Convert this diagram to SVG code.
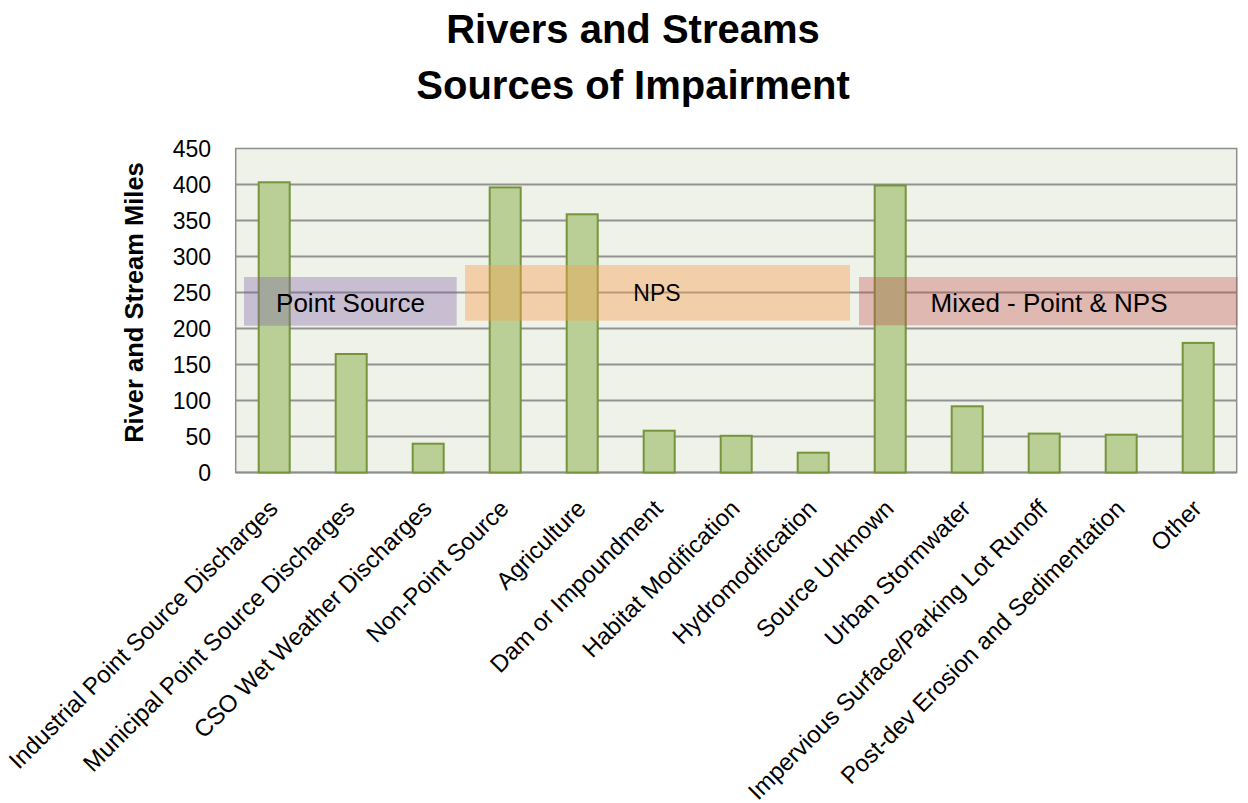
<svg xmlns="http://www.w3.org/2000/svg" width="1248" height="803" viewBox="0 0 1248 803">
<style>
.title{font-family:"Liberation Sans",Arial,sans-serif;font-weight:bold;font-size:40px;fill:#000;text-anchor:middle}
.ytitle{font-family:"Liberation Sans",Arial,sans-serif;font-weight:bold;font-size:25.5px;fill:#000;text-anchor:middle}
.tick{font-family:"Liberation Sans",Arial,sans-serif;font-size:23px;fill:#000;text-anchor:end}
.xl{font-family:"Liberation Sans",Arial,sans-serif;font-size:24px;fill:#000;text-anchor:end}
.grid{stroke:#929292;stroke-width:2;fill:none}
.bar{fill:#b9cf95;stroke:#77933c;stroke-width:2}
.band{font-family:"Liberation Sans",Arial,sans-serif;font-size:26px;fill:#000;text-anchor:middle}
</style>
<rect width="1248" height="803" fill="#ffffff"/>
<g id="title">
<text class="title" x="633" y="43">Rivers and Streams</text>
<text class="title" x="633" y="99">Sources of Impairment</text>
</g>
<g id="plot">
<rect x="235.7" y="148.5" width="1001" height="324" fill="#eff2e9" stroke="#8e8e8e" stroke-width="1.5"/>
<g id="gridlines">
<line class="grid" x1="235.7" y1="184.5" x2="1236.7" y2="184.5"/>
<line class="grid" x1="235.7" y1="220.5" x2="1236.7" y2="220.5"/>
<line class="grid" x1="235.7" y1="256.5" x2="1236.7" y2="256.5"/>
<line class="grid" x1="235.7" y1="292.5" x2="1236.7" y2="292.5"/>
<line class="grid" x1="235.7" y1="328.5" x2="1236.7" y2="328.5"/>
<line class="grid" x1="235.7" y1="364.5" x2="1236.7" y2="364.5"/>
<line class="grid" x1="235.7" y1="400.5" x2="1236.7" y2="400.5"/>
<line class="grid" x1="235.7" y1="436.5" x2="1236.7" y2="436.5"/>
<line x1="235.7" y1="472.5" x2="1236.7" y2="472.5" stroke="#8e8e8e" stroke-width="2"/>
</g>
</g>
<g id="yaxis">
<text class="tick" x="211" y="156.5">450</text>
<text class="tick" x="211" y="192.5">400</text>
<text class="tick" x="211" y="228.5">350</text>
<text class="tick" x="211" y="264.5">300</text>
<text class="tick" x="211" y="300.5">250</text>
<text class="tick" x="211" y="336.5">200</text>
<text class="tick" x="211" y="372.5">150</text>
<text class="tick" x="211" y="408.5">100</text>
<text class="tick" x="211" y="444.5">50</text>
<text class="tick" x="211" y="480.5">0</text>
<text class="ytitle" transform="translate(143,302.5) rotate(-90)">River and Stream Miles</text>
</g>
<g id="bars">
<rect id="bar-industrial" class="bar" x="258.7" y="182.3" width="31" height="290.2"/>
<rect id="bar-municipal" class="bar" x="335.7" y="354" width="31" height="118.5"/>
<rect id="bar-cso" class="bar" x="412.7" y="443.7" width="31" height="28.8"/>
<rect id="bar-nonpoint" class="bar" x="489.7" y="187.4" width="31" height="285.1"/>
<rect id="bar-agriculture" class="bar" x="566.7" y="214.3" width="31" height="258.2"/>
<rect id="bar-dam" class="bar" x="643.7" y="430.7" width="31" height="41.8"/>
<rect id="bar-habitat" class="bar" x="720.7" y="435.8" width="31" height="36.7"/>
<rect id="bar-hydro" class="bar" x="797.7" y="452.7" width="31" height="19.8"/>
<rect id="bar-unknown" class="bar" x="874.7" y="185.5" width="31" height="287"/>
<rect id="bar-urban" class="bar" x="951.7" y="406.3" width="31" height="66.2"/>
<rect id="bar-impervious" class="bar" x="1028.7" y="433.6" width="31" height="38.9"/>
<rect id="bar-postdev" class="bar" x="1105.7" y="434.7" width="31" height="37.8"/>
<rect id="bar-other" class="bar" x="1182.7" y="342.9" width="31" height="129.6"/>
</g>
<g id="band-point">
<rect x="244" y="277" width="212.7" height="48.7" fill="#7f62a6" fill-opacity="0.36"/>
<text class="band" x="350.5" y="311.7">Point Source</text>
</g>
<g id="band-nps">
<rect x="465" y="265" width="385" height="55.7" fill="#f9a050" fill-opacity="0.42"/>
<text class="band" x="657" y="301" style="font-size:23px">NPS</text>
</g>
<g id="band-mixed">
<rect x="859" y="277" width="378.7" height="48.3" fill="#c0504d" fill-opacity="0.36"/>
<text class="band" x="1049" y="312.3">Mixed - Point &amp; NPS</text>
</g>
<g id="xlabels">
<text class="xl" transform="translate(279.2,510) rotate(-45)">Industrial Point Source Discharges</text>
<text class="xl" transform="translate(356.2,510) rotate(-45)">Municipal Point Source Discharges</text>
<text class="xl" transform="translate(433.2,510) rotate(-45)">CSO Wet Weather Discharges</text>
<text class="xl" transform="translate(510.2,510) rotate(-45)">Non-Point Source</text>
<text class="xl" transform="translate(587.2,510) rotate(-45)">Agriculture</text>
<text class="xl" transform="translate(664.2,510) rotate(-45)">Dam or Impoundment</text>
<text class="xl" transform="translate(741.2,510) rotate(-45)">Habitat Modification</text>
<text class="xl" transform="translate(818.2,510) rotate(-45)">Hydromodification</text>
<text class="xl" transform="translate(895.2,510) rotate(-45)">Source Unknown</text>
<text class="xl" transform="translate(972.2,510) rotate(-45)">Urban Stormwater</text>
<text class="xl" transform="translate(1049.2,510) rotate(-45)">Impervious Surface/Parking Lot Runoff</text>
<text class="xl" transform="translate(1126.2,510) rotate(-45)">Post-dev Erosion and Sedimentation</text>
<text class="xl" transform="translate(1203.2,510) rotate(-45)">Other</text>
</g>
</svg>
